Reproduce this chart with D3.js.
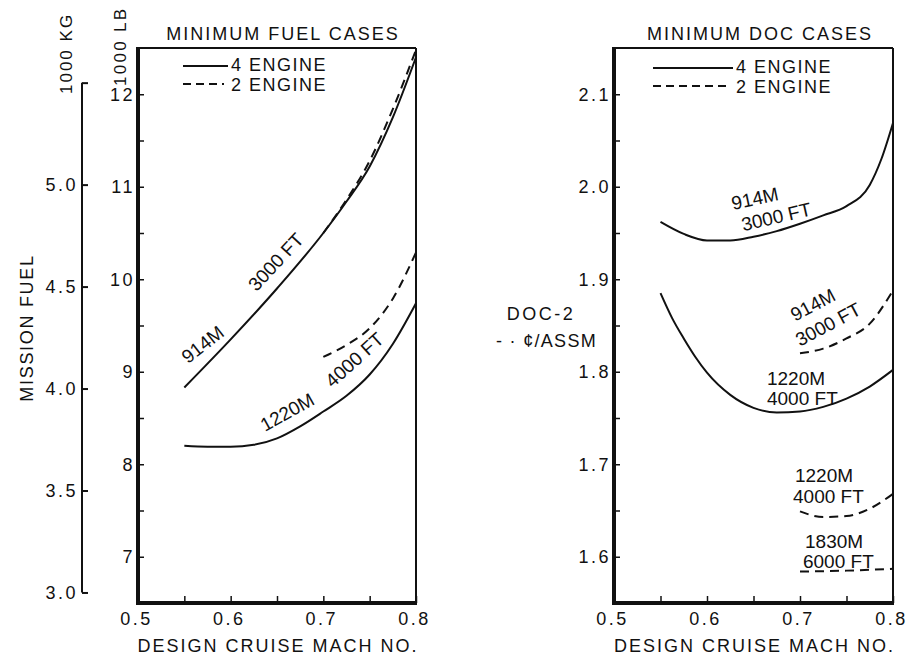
<!DOCTYPE html>
<html>
<head>
<meta charset="utf-8">
<script src="https://cdn.jsdelivr.net/npm/d3@7"></script>
<style>
  body { margin: 0; background: #fff; }
  svg text { font-family: "Liberation Sans", Arial, sans-serif; fill: #111; }
  .eixo path { display: none; }
  .eixo line { stroke: #111; stroke-width: 1.5; }
  .eixo text { font-size: 18px; letter-spacing: 2.5px; font-family: "Liberation Sans", Arial, sans-serif; fill: #111; }
  .curva { fill: none; stroke: #111; stroke-width: 2; }
  .tracejada { stroke-dasharray: 9 6; }
  .rotulo { font-size: 19px; }
</style>
</head>
<body>
<svg id="grafico" width="909" height="657"></svg>
<script>
// eixos
var machTicks = [0.5, 0.6, 0.7, 0.8];
var machMinor = [0.55, 0.65, 0.75];
var lbTicks = [7, 8, 9, 10, 11, 12];
var lbMinor = [7.5, 8.5, 9.5, 10.5, 11.5];
var kgTicks = [3.0, 3.5, 4.0, 4.5, 5.0, 5.5];
var docTicks = [1.6, 1.7, 1.8, 1.9, 2.0, 2.1];
var docMinor = [1.65, 1.75, 1.85, 1.95, 2.05];
var LB_POR_KG = 2.20462;

// minimum fuel cases (1000 lb)
var fuel4e914Mach = [0.55, 0.6, 0.65, 0.7, 0.725, 0.75, 0.775, 0.8];
var fuel4e914 = [8.83, 9.35, 9.90, 10.50, 10.84, 11.22, 11.75, 12.40];
var fuel2e914Mach = [0.7, 0.725, 0.75, 0.775, 0.8];
var fuel2e914 = [10.50, 10.86, 11.28, 11.84, 12.48];
var fuel4e1220Mach = [0.55, 0.575, 0.6, 0.625, 0.65, 0.675, 0.7, 0.725, 0.75, 0.775, 0.8];
var fuel4e1220 = [8.20, 8.19, 8.19, 8.21, 8.28, 8.41, 8.57, 8.74, 8.97, 9.30, 9.74];
var fuel2e1220Mach = [0.7, 0.725, 0.75, 0.775, 0.8];
var fuel2e1220 = [9.16, 9.29, 9.47, 9.79, 10.29];

// minimum DOC cases (cents/ASSM)
var doc4e914Mach = [0.55, 0.575, 0.6, 0.625, 0.65, 0.675, 0.7, 0.725, 0.75, 0.775, 0.7875, 0.8];
var doc4e914 = [1.962, 1.949, 1.942, 1.942, 1.946, 1.952, 1.960, 1.969, 1.979, 2.002, 2.030, 2.069];
var doc4e1220Mach = [0.55, 0.5625, 0.575, 0.5875, 0.6, 0.625, 0.65, 0.675, 0.7, 0.725, 0.75, 0.775, 0.8];
var doc4e1220 = [1.885, 1.858, 1.836, 1.816, 1.799, 1.775, 1.761, 1.756, 1.757, 1.762, 1.771, 1.784, 1.802];
var doc2e914Mach = [0.7, 0.725, 0.75, 0.775, 0.8];
var doc2e914 = [1.820, 1.825, 1.836, 1.852, 1.888];
var doc2e1220Mach = [0.7, 0.725, 0.75, 0.775, 0.8];
var doc2e1220 = [1.649, 1.643, 1.644, 1.652, 1.668];
var doc2e1830Mach = [0.7, 0.75, 0.8];
var doc2e1830 = [1.584, 1.585, 1.587];

var svg = d3.select('#grafico');
var topo = 48, base = 603;

function pares(m, v) { return m.map((d, i) => [d, v[i]]); }

function painel(p) {
  var g = svg.append('g');
  var x = d3.scaleLinear().domain([0.5, 0.8]).range([p.esquerda, p.direita]);
  var y = d3.scaleLinear().domain(p.dominioY).range([base, topo]);

  // ticks x
  g.append('g').attr('class', 'eixo').attr('transform', 'translate(0,' + base + ')')
    .call(d3.axisBottom(x).tickValues(machMinor).tickSize(-7).tickFormat(''));
  g.append('g').attr('class', 'eixo').attr('transform', 'translate(0,' + base + ')')
    .call(d3.axisBottom(x).tickValues(machTicks).tickSize(-7).tickPadding(9).tickFormat(d3.format('.1f')))
    .selectAll('text').attr('dx', -2);

  // ticks y
  g.append('g').attr('class', 'eixo').attr('transform', 'translate(' + p.esquerda + ',0)')
    .call(d3.axisLeft(y).tickValues(p.minor).tickSize(-6).tickFormat(''));
  g.append('g').attr('class', 'eixo').attr('transform', 'translate(' + p.esquerda + ',0)')
    .call(d3.axisLeft(y).tickValues(p.ticks).tickSize(-6).tickPadding(3).tickFormat(d3.format('.' + p.casas + 'f')));

  // moldura
  g.append('line').attr('x1', p.esquerda).attr('x2', p.direita).attr('y1', topo).attr('y2', topo)
    .attr('stroke', '#111').attr('stroke-width', 2);
  g.append('line').attr('x1', p.direita).attr('x2', p.direita).attr('y1', topo).attr('y2', base)
    .attr('stroke', '#111').attr('stroke-width', 2);
  g.append('line').attr('x1', p.esquerda).attr('x2', p.esquerda).attr('y1', topo - 1).attr('y2', base + 2)
    .attr('stroke', '#111').attr('stroke-width', 4);
  g.append('line').attr('x1', p.esquerda - 2).attr('x2', p.direita + 1).attr('y1', base).attr('y2', base)
    .attr('stroke', '#111').attr('stroke-width', 4);

  // curvas
  var linha = d3.line().x(d => x(d[0])).y(d => y(d[1])).curve(d3.curveMonotoneX);
  g.selectAll('.curva')
    .data(p.series)
    .enter()
      .append('path')
      .attr('class', d => d.tipo == 2 ? 'curva tracejada' : 'curva')
      .attr('d', d => linha(d.pontos));

  // rotulos das curvas
  g.selectAll('.rotulo')
    .data(p.rotulos)
    .enter()
      .append('text')
      .attr('class', 'rotulo')
      .attr('transform', d => 'translate(' + x(d.m) + ',' + y(d.v) + ') rotate(' + (d.ang || 0) + ')')
      .text(d => d.t);

  // titulo
  g.append('text')
    .attr('x', p.tituloX).attr('y', 40)
    .attr('text-anchor', 'middle')
    .style('font-size', '18px').style('letter-spacing', '2px')
    .text(p.titulo);

  // legenda
  var leg = p.legenda;
  g.append('line').attr('x1', leg.x0).attr('x2', leg.x1).attr('y1', leg.y).attr('y2', leg.y)
    .attr('stroke', '#111').attr('stroke-width', 2);
  g.append('line').attr('x1', leg.x0).attr('x2', leg.x1 - 4).attr('y1', leg.y + 18).attr('y2', leg.y + 18)
    .attr('stroke', '#111').attr('stroke-width', 2).attr('stroke-dasharray', '8 5');
  g.append('text').attr('x', leg.x1 + 3).attr('y', leg.y + 5)
    .style('font-size', '18px').style('letter-spacing', '1.5px').text('4 ENGINE');
  g.append('text').attr('x', leg.x1 + 3).attr('y', leg.y + 25)
    .style('font-size', '18px').style('letter-spacing', '1.5px').text('2 ENGINE');

  // titulo do eixo x
  g.append('text')
    .attr('x', (p.esquerda + p.direita) / 2 + 1).attr('y', 652)
    .attr('text-anchor', 'middle')
    .style('font-size', '18px').style('letter-spacing', '2px')
    .text('DESIGN CRUISE MACH NO.');

  return { g: g, x: x, y: y };
}

var esq = painel({
  esquerda: 138, direita: 416,
  dominioY: [6.5, 12.5], ticks: lbTicks, minor: lbMinor, casas: 0,
  titulo: 'MINIMUM FUEL CASES', tituloX: 283,
  legenda: { x0: 183, x1: 228, y: 66 },
  series: [
    { tipo: 4, pontos: pares(fuel4e914Mach, fuel4e914) },
    { tipo: 2, pontos: pares(fuel2e914Mach, fuel2e914) },
    { tipo: 4, pontos: pares(fuel4e1220Mach, fuel4e1220) },
    { tipo: 2, pontos: pares(fuel2e1220Mach, fuel2e1220) }
  ],
  rotulos: [
    { t: '914M', m: 0.554, v: 9.08, ang: -38 },
    { t: '3000 FT', m: 0.628, v: 9.86, ang: -47 },
    { t: '1220M', m: 0.637, v: 8.35, ang: -29 },
    { t: '4000 FT', m: 0.710, v: 8.82, ang: -42 }
  ]
});

var dir = painel({
  esquerda: 614, direita: 893,
  dominioY: [1.55, 2.15], ticks: docTicks, minor: docMinor, casas: 1,
  titulo: 'MINIMUM DOC CASES', tituloX: 760,
  legenda: { x0: 653, x1: 733, y: 68 },
  series: [
    { tipo: 4, pontos: pares(doc4e914Mach, doc4e914) },
    { tipo: 4, pontos: pares(doc4e1220Mach, doc4e1220) },
    { tipo: 2, pontos: pares(doc2e914Mach, doc2e914) },
    { tipo: 2, pontos: pares(doc2e1220Mach, doc2e1220) },
    { tipo: 2, pontos: pares(doc2e1830Mach, doc2e1830) }
  ],
  rotulos: [
    { t: '914M', m: 0.628, v: 1.975, ang: -12 },
    { t: '3000 FT', m: 0.639, v: 1.952, ang: -13 },
    { t: '914M', m: 0.6946, v: 1.854, ang: -28 },
    { t: '3000 FT', m: 0.700, v: 1.827, ang: -28 },
    { t: '1220M', m: 0.6645, v: 1.786, ang: 0 },
    { t: '4000 FT', m: 0.6645, v: 1.764, ang: 0 },
    { t: '1220M', m: 0.6946, v: 1.681, ang: 0 },
    { t: '4000 FT', m: 0.6925, v: 1.658, ang: 0 },
    { t: '1830M', m: 0.7054, v: 1.6095, ang: 0 },
    { t: '6000 FT', m: 0.7032, v: 1.588, ang: 0 }
  ]
});

// eixo em 1000 kg, convertido da escala em 1000 lb
var yKg = d3.scaleLinear()
  .domain(esq.y.domain().map(d => d / LB_POR_KG))
  .range(esq.y.range());
var eixoKg = svg.append('g').attr('class', 'eixo').attr('transform', 'translate(82,0)')
  .call(d3.axisLeft(yKg).tickValues(kgTicks).tickSize(-6).tickPadding(4)
    .tickFormat(d => d >= 5.5 ? '' : d3.format('.1f')(d)));
eixoKg.selectAll('line').style('stroke-width', 2);
svg.append('line')
  .attr('x1', 82).attr('x2', 82)
  .attr('y1', yKg(d3.max(kgTicks))).attr('y2', yKg(d3.min(kgTicks)))
  .attr('stroke', '#111').attr('stroke-width', 2);

// titulos verticais
svg.append('text')
  .attr('transform', 'translate(126,86) rotate(-90)')
  .style('font-size', '17px').style('letter-spacing', '2.3px')
  .text('1000 LB');
svg.append('text')
  .attr('transform', 'translate(72,94) rotate(-90)')
  .style('font-size', '17px').style('letter-spacing', '2px')
  .text('1000 KG');
svg.append('text')
  .attr('transform', 'translate(33,328) rotate(-90)')
  .attr('text-anchor', 'middle')
  .style('font-size', '18px').style('letter-spacing', '1.7px')
  .text('MISSION FUEL');

// rotulo do eixo DOC
svg.append('text')
  .attr('x', 541).attr('y', 320)
  .attr('text-anchor', 'middle')
  .style('font-size', '18px').style('letter-spacing', '2.5px')
  .text('DOC-2');
svg.append('text')
  .attr('x', 496).attr('y', 347)
  .style('font-size', '18px').style('letter-spacing', '1.3px')
  .text('- · ¢/ASSM');
</script>
</body>
</html>
